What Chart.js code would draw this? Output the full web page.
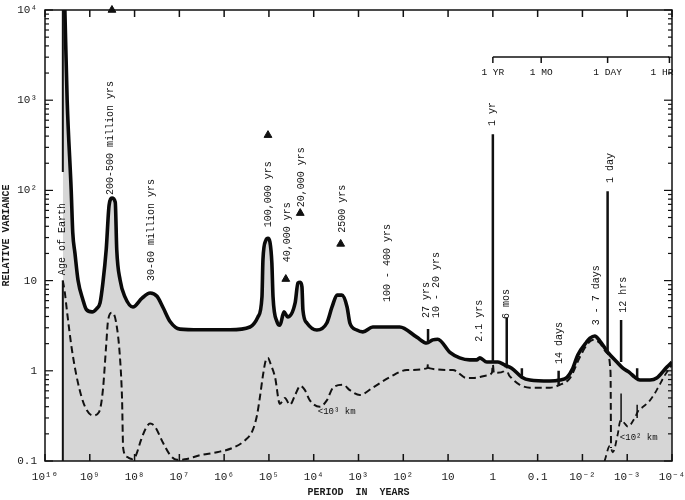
<!DOCTYPE html>
<html><head><meta charset="utf-8">
<script src="https://cdn.jsdelivr.net/npm/chart.js@4.4.1/dist/chart.umd.min.js"></script>
<style>html,body{margin:0;padding:0;background:#fff;}</style>
</head><body>
<canvas id="c" width="685" height="500"></canvas>
<script>
// ---------- data (period in years, relative variance) ----------
const solidPeriod = [
 3.6e9, 3.2e9, 2.6e9, 2.4e9, 2.14e9, 1.83e9, 1.42e9, 1.2e9, 8.9e8, 7.0e8,
 5.9e8, 5.1e8, 4.3e8, 3.7e8, 3.2e8, 2.7e8, 2.5e8, 2.1e8, 1.64e8, 1.09e8,
 6.8e7, 4.5e7, 3.16e7, 2.3e7, 1.6e7, 9.7e6, 3.5e6, 7.4e5, 2.65e5, 1.76e5,
 1.43e5, 1.36e5, 1.17e5, 1.05e5, 9.5e4, 8.6e4, 8.1e4, 6.6e4, 5.7e4, 4.6e4,
 3.8e4, 2.6e4, 2.25e4, 2.0e4, 1.83e4, 1.74e4, 1.42e4, 8500, 5100, 3900,
 3000, 2350, 1800, 1560, 1090, 800, 480, 120, 50, 30,
 22, 17, 9.1, 5.5, 3.3, 2.3, 1.95, 1.36, 1, 0.77,
 0.54, 0.38, 0.225, 0.149, 0.053, 0.032, 0.022, 0.0164, 0.0127, 0.008,
 0.0068, 0.0053, 0.0041, 0.0027, 0.0017, 0.00125, 0.00087, 0.00068, 0.00052, 0.00031,
 0.00022, 0.00013, 0.0001
];
const solidVariance = [
 1e4, 1000, 100, 34, 20, 10.1, 6.1, 4.8, 4.5, 4.9,
 5.65, 9.4, 22, 69, 82, 74, 22, 10.1, 6.6, 5.1,
 6.4, 7.3, 6.7, 5.0, 3.5, 2.9, 2.85, 2.85, 3.06, 3.95,
 6.6, 17, 28, 29.5, 26.8, 15.7, 6.6, 3.5, 3.2, 4.5,
 3.95, 5.65, 9.4, 9.6, 8.5, 4.7, 3.39, 2.83, 3.39, 5.1,
 6.9, 6.9, 5.1, 3.39, 2.83, 2.7, 3.06, 3.06, 2.36, 2.03,
 2.2, 2.24, 1.6, 1.39, 1.32, 1.32, 1.39, 1.25, 1.25, 1.25,
 1.16, 1.07, 0.85, 0.79, 0.77, 0.79, 0.85, 1.07, 1.5, 2.1,
 2.3, 2.43, 2.15, 1.6, 1.25, 1.07, 0.95, 0.85, 0.79, 0.79,
 0.83, 1.1, 1.25
];

// scales < 10^3 km (dashed)
const km1000Period = [
 4.0e9, 3.6e9, 3.2e9, 2.5e9, 1.83e9, 1.28e9, 8.5e8, 6.2e8, 5.1e8, 4.3e8,
 3.9e8, 3.2e8, 2.6e8, 2.1e8, 1.9e8, 1.8e8, 1.48e8, 1.14e8, 9.3e7, 7.2e7,
 5.6e7, 4.5e7, 3.5e7, 2.3e7, 1.6e7, 1.13e7, 6.8e6, 3.5e6, 1.45e6, 6.4e5,
 3.4e5, 2.3e5, 1.85e5, 1.59e5, 1.36e5, 1.17e5, 1.05e5, 9.0e4, 7.3e4, 5.7e4,
 4.4e4, 3.4e4, 2.6e4, 2.0e4, 1.57e4, 1.22e4, 7300, 5100, 3700, 2200,
 1560, 930, 480, 200, 83, 29, 28, 27, 7.8, 3.8,
 2.8, 1.36, 1.05, 1, 0.95, 0.81, 0.55, 0.5, 0.46, 0.38,
 0.25, 0.149, 0.053, 0.032, 0.019, 0.0114, 0.008, 0.0059, 0.0041, 0.00285,
 0.00236, 0.0023
];
const km1000Variance = [
 10, 7.3, 4.4, 1.7, 0.73, 0.4, 0.32, 0.35, 0.61, 1.93,
 3.65, 4.4, 3.5, 1.32, 0.47, 0.14, 0.111, 0.105, 0.116, 0.17,
 0.23, 0.26, 0.24, 0.158, 0.116, 0.103, 0.105, 0.116, 0.125, 0.14,
 0.17, 0.22, 0.32, 0.51, 0.89, 1.32, 1.39, 1.16, 0.85, 0.43,
 0.5, 0.42, 0.54, 0.68, 0.61, 0.47, 0.4, 0.47, 0.65, 0.7,
 0.61, 0.54, 0.65, 0.85, 1.02, 1.07, 1.2, 1.07, 1.02, 0.83,
 0.83, 0.89, 0.95, 1.17, 0.95, 0.95, 1.0, 1.17, 0.95, 0.83,
 0.7, 0.65, 0.65, 0.7, 0.83, 1.42, 1.93, 2.2, 2.03, 1.58,
 0.97, 0.139
];

// scales < 10^2 km (dashed)
const km100Period = [0.0032, 0.00244, 0.0021, 0.00162, 0.00142, 0.00132, 0.00113, 0.00097, 0.00068, 0.00055, 0.00047, 0.00031, 0.00022, 0.000145, 0.0001];
const km100Variance = [0.1, 0.147, 0.125, 0.2, 0.28, 0.28, 0.26, 0.24, 0.3, 0.37, 0.39, 0.47, 0.61, 0.89, 1.16];

// sharp spectral lines on the total-variance curve
const spikePeriod = [28, 1, 0.49, 0.034, 0.225, 0.00274, 0.00137, 0.0006];
const spikeBase   = [2.03, 1.25, 1.16, 0.7, 0.85, 1.6, 1.25, 0.83];
const spikeTop    = [2.9, 420, 3.85, 1.0, 1.07, 98, 3.65, 1.07];
// sharp lines on the < 10^2 km curve
const lowSpikePeriod = [0.00137, 0.0006];
const lowSpikeBase   = [0.27, 0.3];
const lowSpikeTop    = [0.56, 0.42];

// Age of Earth boundary
const ageOfEarth = 4.0e9;
const ageLineFrom = [0.1, 160];
const ageLineTo   = [10, 1e4];

// triangles (estimated variance of peaks)
const trianglePeriod   = [3.2e8, 1.05e5, 4.2e4, 2.0e4, 2500];
const triangleVariance = [1e4, 410, 10.4, 56, 25.5];

// axes
const xTickValues = [1e10,1e9,1e8,1e7,1e6,1e5,1e4,1e3,1e2,10,1,0.1,1e-2,1e-3,1e-4];
const xTickLabels = ['10¹⁰','10⁹','10⁸','10⁷','10⁶','10⁵','10⁴','10³','10²','10','1','0.1','10⁻²','10⁻³','10⁻⁴'];
const yTickValues = [0.1,1,10,100,1000,10000];
const yTickLabels = ['0.1','1','10','10²','10³','10⁴'];

// secondary period marks along the top
const topMarkPeriods = [1, 1/12, 1/365, 1/8760];
const topMarkLabels  = ['1 YR','1 MO','1 DAY','1 HR'];

// peak annotations (text, period, variance at the foot of the text)
const peakLabels = [
 ['Age of Earth', 4.0e9, 11.5],
 ['200-500 million yrs', 3.4e8, 89],
 ['30-60 million yrs', 4.3e7, 9.9],
 ['100,000 yrs', 1.05e5, 39],
 ['40,000 yrs', 3.8e4, 16],
 ['20,000 yrs', 1.93e4, 65],
 ['2500 yrs', 2350, 34],
 ['100 - 400 yrs', 230, 5.8],
 ['27 yrs', 31, 3.85],
 ['10 - 20 yrs', 17.8, 3.85],
 ['2.1 yrs', 2.05, 2.1],
 ['6 mos', 0.49, 3.75],
 ['14 days', 0.032, 1.19],
 ['3 - 7 days', 0.0048, 3.2],
 ['12 hrs', 0.00119, 4.4],
 ['1 yr', 1, 518],
 ['1 day', 0.00232, 121]
];
const curveLabels = [
 ['<10³ km', 8100, 0.35],
 ['<10² km', 0.00146, 0.18]
];

// ---------- build tables ----------
const zip = (xs, ys) => xs.map((v, i) => ({x: v, y: ys[i]}));
const solidData = zip(solidPeriod, solidVariance);
const fillData = [{x: ageOfEarth, y: 1e4}].concat(solidData);
const segs = (xs, a, b) => { const out = []; xs.forEach((v, i) => { out.push({x: v, y: a[i]}, {x: v, y: b[i]}, {x: v, y: null}); }); return out; };
const spikeData = segs(spikePeriod, spikeBase, spikeTop);
const lowSpikeData = segs(lowSpikePeriod, lowSpikeBase, lowSpikeTop);
const ageData = segs(ageLineFrom.map(() => ageOfEarth), ageLineFrom, ageLineTo);

const MONO = '"Liberation Mono", "DejaVu Sans Mono", monospace';
const INK = '#111';

const decor = {
  id: 'decor',
  afterDatasetsDraw(chart) {
    const {ctx, chartArea: a, scales: {x, y}} = chart;
    const line = (x1, y1, x2, y2) => { ctx.beginPath(); ctx.moveTo(x1, y1); ctx.lineTo(x2, y2); ctx.stroke(); };
    ctx.save();
    ctx.strokeStyle = INK; ctx.fillStyle = INK;
    ctx.lineWidth = 1.5;
    ctx.strokeRect(a.left, a.top, a.right - a.left, a.bottom - a.top);
    xTickValues.forEach(v => {
      const px = x.getPixelForValue(v);
      line(px, a.bottom, px, a.bottom - 7);
      line(px, a.top, px, a.top + 7);
    });
    ctx.lineWidth = 1.2;
    yTickValues.forEach(d => {
      for (let m = 1; m <= 9; m++) {
        const v = d * m;
        if (v > 1e4 * 1.0001) break;
        const py = y.getPixelForValue(v);
        const len = m === 1 ? 8 : 4;
        line(a.left, py, a.left + len, py);
        line(a.right, py, a.right - len, py);
      }
    });
    // top bracket of calendar periods
    const by = a.top + 47;
    const p0 = x.getPixelForValue(topMarkPeriods[0]);
    const p1 = x.getPixelForValue(topMarkPeriods[topMarkPeriods.length - 1]);
    ctx.lineWidth = 1.5;
    line(p0, by, p1, by);
    ctx.font = '9.5px ' + MONO;
    ctx.textBaseline = 'middle';
    topMarkPeriods.forEach((v, i) => {
      const px = x.getPixelForValue(v);
      line(px, by, px, by + 6);
      const last = i === topMarkPeriods.length - 1;
      ctx.textAlign = last ? 'right' : 'center';
      ctx.fillText(topMarkLabels[i], last ? px + 4 : px, by + 15);
    });
    // rotated peak labels
    ctx.font = '10px ' + MONO;
    ctx.textAlign = 'left';
    ctx.textBaseline = 'middle';
    peakLabels.forEach(([t, p, v]) => {
      ctx.save();
      ctx.translate(x.getPixelForValue(p), y.getPixelForValue(v));
      ctx.rotate(-Math.PI / 2);
      ctx.fillText(t, 0, 0);
      ctx.restore();
    });
    ctx.font = '9px ' + MONO;
    curveLabels.forEach(([t, p, v]) => {
      ctx.fillText(t, x.getPixelForValue(p), y.getPixelForValue(v));
    });
    ctx.restore();
  }
};

const base = {pointRadius: 0, pointHoverRadius: 0, spanGaps: false, fill: false};

new Chart(document.getElementById('c'), {
  type: 'line',
  data: {
    datasets: [
      {label: 'Peak estimates', data: zip(trianglePeriod, triangleVariance), showLine: false,
       pointStyle: 'triangle', pointRadius: 4.5, pointBackgroundColor: INK, pointBorderColor: INK,
       pointBorderWidth: 1, clip: false, order: 0},
      Object.assign({label: 'Spectral lines', data: spikeData, borderColor: INK, borderWidth: 2.5, tension: 0, order: 1}, base),
      Object.assign({label: 'Lines < 10² km', data: lowSpikeData, borderColor: INK, borderWidth: 1.5, tension: 0, order: 1}, base),
      Object.assign({label: 'Total variance', data: solidData, borderColor: '#0a0a0a', borderWidth: 3.6,
        cubicInterpolationMode: 'monotone', borderJoinStyle: 'round', order: 2}, base),
      Object.assign({label: '< 10³ km', data: zip(km1000Period, km1000Variance), borderColor: INK, borderWidth: 2,
        borderDash: [7, 4], cubicInterpolationMode: 'monotone', order: 3}, base),
      Object.assign({label: '< 10² km', data: zip(km100Period, km100Variance), borderColor: INK, borderWidth: 1.8,
        borderDash: [6, 4], cubicInterpolationMode: 'monotone', order: 3}, base),
      Object.assign({label: 'Age of Earth', data: ageData, borderColor: INK, borderWidth: 2, tension: 0, order: 4}, base),
      Object.assign({}, base, {label: 'Shading', data: fillData, fill: 'start', backgroundColor: 'rgb(214,214,214)',
        borderWidth: 0, borderColor: 'rgba(0,0,0,0)', cubicInterpolationMode: 'monotone', order: 5})
    ]
  },
  options: {
    responsive: false,
    animation: false,
    events: [],
    layout: {padding: {top: 10, right: 13, left: 0, bottom: 0}},
    plugins: {legend: {display: false}, tooltip: {enabled: false}},
    scales: {
      x: {
        type: 'logarithmic', reverse: true, min: 1e-4, max: 1e10,
        grid: {display: false, drawTicks: false}, border: {display: false},
        afterBuildTicks: s => { s.ticks = xTickValues.map(v => ({value: v})); },
        afterFit: s => { s.height = 39; s.paddingLeft = 0; s.paddingRight = 0; },
        ticks: {autoSkip: false, maxRotation: 0, padding: 9, color: '#1a1a1a',
          font: {family: MONO, size: 11},
          callback: (v, i) => xTickLabels[i]},
        title: {display: true, text: 'PERIOD  IN  YEARS', color: '#1a1a1a',
          font: {family: MONO, size: 10, weight: 'bold'}, padding: {top: 0, bottom: 2}}
      },
      y: {
        type: 'logarithmic', min: 0.1, max: 1e4,
        grid: {display: false, drawTicks: false}, border: {display: false},
        afterBuildTicks: s => { s.ticks = yTickValues.map(v => ({value: v})); },
        afterFit: s => { s.width = 45; s.paddingTop = 0; s.paddingBottom = 0; },
        ticks: {autoSkip: false, padding: 8, color: '#1a1a1a',
          font: {family: MONO, size: 11},
          callback: (v, i) => yTickLabels[i]},
        title: {display: true, text: 'RELATIVE VARIANCE', color: '#1a1a1a',
          font: {family: MONO, size: 10, weight: 'bold'}, padding: {top: 0, bottom: 0}}
      }
    }
  },
  plugins: [decor]
});
</script>
</body></html>
